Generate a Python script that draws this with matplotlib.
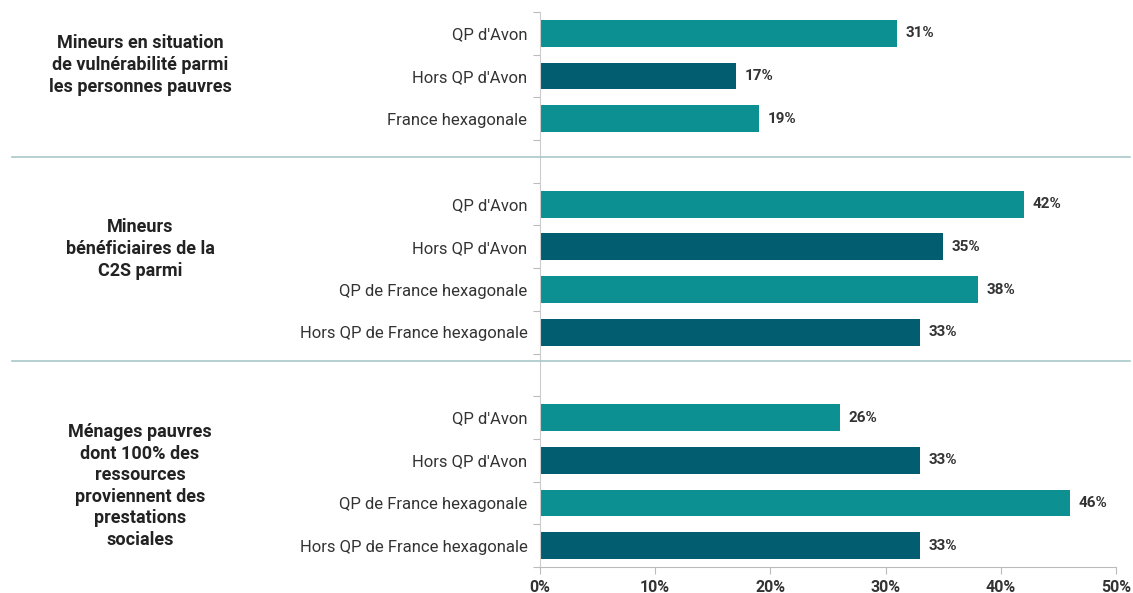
import matplotlib.pyplot as plt
from matplotlib.lines import Line2D
from matplotlib.ticker import FuncFormatter

plt.rcParams["font.family"] = ["Roboto", "DejaVu Sans"]

# data
groups = [
    "Mineurs en situation\nde vulnérabilité parmi\nles personnes pauvres",
    "Mineurs\nbénéficiaires de la\nC2S parmi",
    "Ménages pauvres\ndont 100% des\nressources\nproviennent des\nprestations\nsociales",
]
cats_g1 = ["QP d'Avon", "Hors QP d'Avon", "France hexagonale"]
vals_g1 = [31, 17, 19]
cats_g2 = ["QP d'Avon", "Hors QP d'Avon", "QP de France hexagonale", "Hors QP de France hexagonale"]
vals_g2 = [42, 35, 38, 33]
cats_g3 = ["QP d'Avon", "Hors QP d'Avon", "QP de France hexagonale", "Hors QP de France hexagonale"]
vals_g3 = [26, 33, 46, 33]
x_ticks = [0, 10, 20, 30, 40, 50]

TEAL = "#0c9092"
DARK = "#035d70"
SEP = "#a9c7c8"

fig = plt.figure(figsize=(11.33, 5.93), dpi=100)
ax = fig.add_axes([0.4766, 0.0438, 0.985 - 0.4766, 0.9798 - 0.0438])

# build row positions with a blank slot between groups
labels, values, ypos, colors = [], [], [], []
slot = 0
for cats, vals in [(cats_g1, vals_g1), (cats_g2, vals_g2), (cats_g3, vals_g3)]:
    for c, v in zip(cats, vals):
        labels.append(c)
        values.append(v)
        ypos.append(slot)
        colors.append(DARK if c.startswith("Hors") else TEAL)
        slot += 1
    slot += 1
n_slots = slot - 1

ax.barh(ypos, values, height=0.63, color=colors, edgecolor="none")
for y, v in zip(ypos, values):
    ax.text(v + 0.75, y, f"{v}%", va="center", ha="left", fontsize=11,
            fontweight="bold", color="#333333")

ax.set_ylim(n_slots - 0.5, -0.5)
ax.set_xlim(0, 50)
ax.set_yticks(ypos)
ax.set_yticklabels(labels, fontsize=12, color="#333333")
ax.set_yticks([i - 0.5 for i in range(n_slots + 1)], minor=True)
ax.tick_params(axis="y", which="major", length=0, pad=9)
ax.tick_params(axis="y", which="minor", length=5, color="#bbbbbb", width=0.8)
ax.set_xticks(x_ticks)
ax.xaxis.set_major_formatter(FuncFormatter(lambda v, p: f"{v:.0f}%"))
ax.tick_params(axis="x", length=5, color="#bbbbbb", width=0.8, labelsize=11.5, pad=4)
for lab in ax.get_xticklabels():
    lab.set_fontweight("bold")
    lab.set_color("#333333")
for s in ["top", "right"]:
    ax.spines[s].set_visible(False)
ax.spines["left"].set_color("#cccccc")
ax.spines["bottom"].set_color("#bbbbbb")
ax.spines["left"].set_linewidth(0.8)
ax.spines["bottom"].set_linewidth(0.8)

# separators between groups (figure coordinates)
for ypix in [157, 361]:
    yf = 1 - ypix / 593
    fig.add_artist(Line2D([12 / 1133, 1130 / 1133], [yf, yf], color=SEP, lw=1.2))

# group titles
for text, ypix in zip(groups, [65, 249, 486]):
    fig.text(140 / 1133, 1 - ypix / 593, text, ha="center", va="center",
             fontsize=13, fontweight="bold", color="#222222", linespacing=1.25)

fig.savefig("out.png", dpi=100)
